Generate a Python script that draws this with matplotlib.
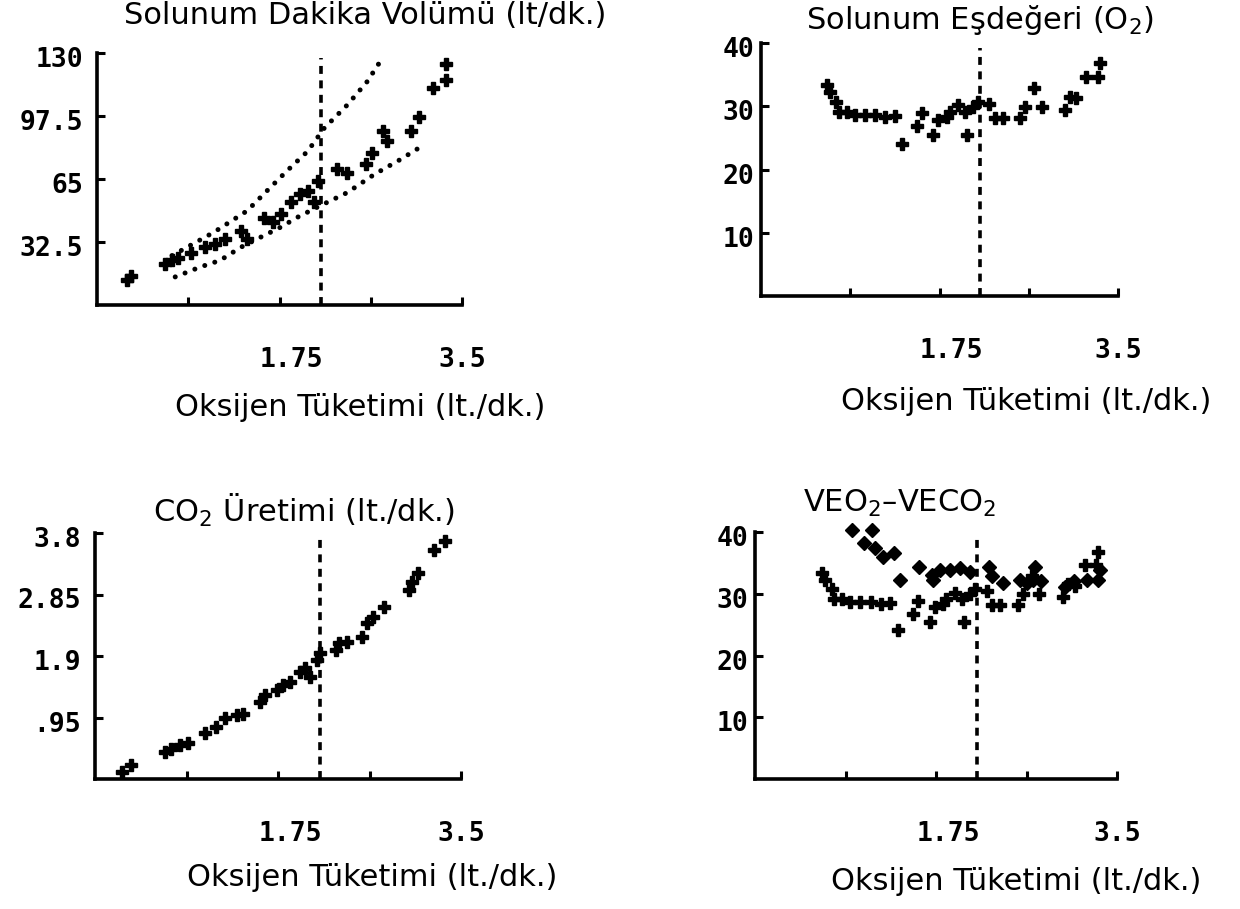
import matplotlib
matplotlib.use("Agg")
import matplotlib.pyplot as plt
import matplotlib.transforms as mtransforms

W, H = 1240, 909

# ---------------- data ----------------
x_ticks = [0.875, 1.75, 2.625, 3.5]
x_ticklabels = ["", "1.75", "", "3.5"]
threshold_x = 2.15

# Panel 1: Solunum Dakika Volümü
ve_x = [0.29, 0.33, 0.65, 0.72, 0.78, 0.90, 1.04, 1.13, 1.23, 1.38, 1.44, 1.60, 1.69, 1.76,
        1.86, 1.95, 2.02, 2.08, 2.12, 2.30, 2.40, 2.58, 2.64, 2.74, 2.78, 3.01, 3.09, 3.22,
        3.35, 3.35]
ve_y = [12.8, 14.8, 21.3, 23.0, 24.0, 26.6, 29.8, 31.7, 34.3, 38.4, 34.3, 45.0, 42.6, 47.0,
        52.9, 57.3, 58.9, 52.9, 64.0, 70.0, 68.2, 72.7, 78.5, 89.6, 84.4, 89.6, 97.2, 111.7,
        116.0, 124.5]
upper_x = [0.72, 1.12, 1.44, 1.63, 1.82, 2.02, 2.18, 2.40, 2.59, 2.75]
upper_y = [25.5, 37.5, 48.6, 58.9, 69.1, 79.3, 91.3, 103.2, 115.2, 128.5]
lower_x = [0.75, 0.99, 1.18, 1.38, 1.57, 1.76, 1.92, 2.14, 2.40, 2.66, 2.91, 3.14]
lower_y = [14.5, 19.6, 23.0, 29.8, 35.0, 40.1, 45.2, 51.2, 58.0, 67.4, 75.1, 82.8]
ve_yticks = [32.5, 65, 97.5, 130]
ve_yticklabels = ["32.5", "65", "97.5", "130"]

# Panel 2 & 4: Solunum Eşdeğeri (O2)
eqo2_x = [0.65, 0.68, 0.74, 0.76, 0.84, 0.92, 1.02, 1.12, 1.22, 1.31, 1.38, 1.53, 1.58, 1.69,
          1.74, 1.82, 1.85, 1.93, 2.00, 2.02, 2.08, 2.13, 2.24, 2.29, 2.37, 2.54, 2.59, 2.68,
          2.75, 2.98, 3.03, 3.09, 3.19, 3.30, 3.32]
eqo2_y = [33.4, 32.3, 30.7, 29.1, 29.1, 28.6, 28.6, 28.6, 28.3, 28.5, 24.1, 26.8, 28.9, 25.4,
          27.8, 28.3, 29.1, 30.2, 29.1, 25.4, 29.9, 30.7, 30.4, 28.1, 28.1, 28.1, 29.9, 32.9,
          29.9, 29.4, 31.5, 31.3, 34.7, 34.7, 36.8]
eq_yticks = [10, 20, 30, 40]
eq_yticklabels = ["10", "20", "30", "40"]

# Panel 3: CO2 Üretimi
vco2_x = [0.26, 0.34, 0.67, 0.73, 0.81, 0.89, 1.05, 1.16, 1.24, 1.36, 1.42, 1.58, 1.63, 1.74,
          1.80, 1.86, 1.96, 2.01, 2.06, 2.12, 2.15, 2.30, 2.33, 2.41, 2.55, 2.60, 2.66, 2.76,
          3.00, 3.03, 3.09, 3.24, 3.35]
vco2_y = [0.11, 0.22, 0.42, 0.47, 0.53, 0.55, 0.71, 0.81, 0.94, 0.99, 1.01, 1.19, 1.30, 1.37,
          1.45, 1.50, 1.66, 1.71, 1.58, 1.84, 1.94, 1.99, 2.10, 2.12, 2.20, 2.41, 2.51, 2.66,
          2.92, 3.05, 3.18, 3.54, 3.67]
co2_yticks = [0.95, 1.9, 2.85, 3.8]
co2_yticklabels = [".95", "1.9", "2.85", "3.8"]

# Panel 4: VECO2 (diamonds)
eqco2_x = [0.94, 1.13, 1.05, 1.16, 1.24, 1.34, 1.40, 1.59, 1.71, 1.72, 1.79, 1.89, 1.98, 2.08,
           2.26, 2.29, 2.40, 2.56, 2.63, 2.71, 2.69, 2.77, 3.00, 3.08, 3.21, 3.32, 3.34]
eqco2_y = [40.3, 40.4, 38.2, 37.4, 36.0, 36.6, 32.2, 34.4, 33.0, 32.2, 33.8, 33.8, 34.1, 33.6,
           34.4, 32.8, 31.7, 32.2, 31.7, 34.4, 32.2, 32.0, 31.1, 32.0, 32.2, 32.2, 33.8]

# ---------------- figure ----------------
fig = plt.figure(figsize=(W / 100, H / 100), dpi=100)
fig.patch.set_facecolor("white")

MONO = "DejaVu Sans Mono"
SANS = "DejaVu Sans"
TICKSIZE = 19
TEXTSIZE = 22


def add_ax(l, t, r, b):
    return fig.add_axes([l / W, 1 - b / H, (r - l) / W, (b - t) / H])


def style(ax, ylim, yticks, yticklabels, ypad):
    ax.set_xlim(0, 3.5)
    ax.set_ylim(0, ylim)
    ax.set_facecolor("none")
    for s in ("top", "right"):
        ax.spines[s].set_visible(False)
    for s in ("left", "bottom"):
        ax.spines[s].set_linewidth(2.6)
        ax.spines[s].set_color("black")
    ax.set_xticks(x_ticks)
    ax.set_xticklabels(x_ticklabels)
    ax.set_yticks(yticks)
    ax.set_yticklabels(yticklabels)
    ax.tick_params(axis="both", direction="in", length=6, width=2.2, color="black")
    ax.tick_params(axis="x", pad=30)
    ax.tick_params(axis="y", pad=ypad)
    for lab in ax.get_xticklabels() + ax.get_yticklabels():
        lab.set_fontfamily(MONO)
        lab.set_fontweight("bold")
        lab.set_fontsize(TICKSIZE)
    # shift "1.75" slightly right as in the reference
    off = mtransforms.ScaledTranslation(12 / 100, 0, fig.dpi_scale_trans)
    lab = ax.get_xticklabels()[1]
    lab.set_transform(lab.get_transform() + off)
    # y labels sit slightly below their ticks in the reference
    yoff = mtransforms.ScaledTranslation(0, -4 / 100, fig.dpi_scale_trans)
    for lab in ax.get_yticklabels():
        lab.set_transform(lab.get_transform() + yoff)
    ax.axvline(threshold_x, ymin=0, ymax=0.98, color="black", lw=2.6,
               linestyle=(0, (2.2, 1.8)))


def ftext(x, y, s, size=TEXTSIZE):
    fig.text(x / W, 1 - y / H, s, ha="center", va="center", fontsize=size,
             family=SANS, color="black")


mk = dict(marker="P", linestyle="none", color="black", markersize=8, clip_on=False)
dot = dict(color="black", lw=3.6, linestyle=(0, (0.01, 2.1)), dash_capstyle="round")

# Panel 1
ax1 = add_ax(97, 53, 462, 305)
style(ax1, 130, ve_yticks, ve_yticklabels, 10)
ax1.plot(upper_x, upper_y, **dot)
ax1.plot(lower_x, lower_y, **dot)
ax1.plot(ve_x, ve_y, **mk)
ftext(365, 15, "Solunum Dakika Volümü (lt/dk.)")
ftext(360, 408, "Oksijen Tüketimi (lt./dk.)")

# Panel 2
ax2 = add_ax(761, 43, 1118, 296)
style(ax2, 40, eq_yticks, eq_yticklabels, 5)
ax2.plot(eqo2_x, eqo2_y, **mk)
ftext(980, 20, "Solunum Eşdeğeri (O$_2$)")
ftext(1026, 402, "Oksijen Tüketimi (lt./dk.)")

# Panel 3
ax3 = add_ax(95, 533, 461, 779)
style(ax3, 3.8, co2_yticks, co2_yticklabels, 10)
ax3.plot(vco2_x, vco2_y, **mk)
ftext(304, 510, "CO$_2$ Üretimi (lt./dk.)")
ftext(372, 877, "Oksijen Tüketimi (lt./dk.)")

# Panel 4
ax4 = add_ax(755, 532, 1117, 779)
style(ax4, 40, eq_yticks, eq_yticklabels, 5)
ax4.plot(eqo2_x, eqo2_y, **mk)
ax4.plot(eqco2_x, eqco2_y, marker="D", linestyle="none", color="black",
         markersize=7, clip_on=False)
ftext(900, 503, "VEO$_2$–VECO$_2$")
ftext(1016, 882, "Oksijen Tüketimi (lt./dk.)")

fig.savefig("out.png", dpi=100, facecolor="white")
